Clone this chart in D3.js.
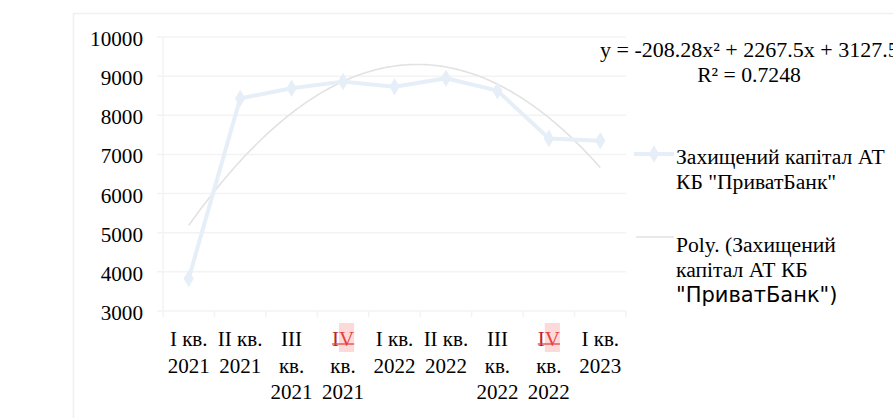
<!DOCTYPE html>
<html>
<head>
<meta charset="utf-8">
<script src="https://cdn.jsdelivr.net/npm/d3@7"></script>
<style>
  html, body { margin: 0; padding: 0; background: #fff; }
  svg { display: block; }
  text { font-family: "Liberation Serif", "Times New Roman", serif; fill: #000; }
</style>
</head>
<body>
<svg id="chart" width="893" height="418"></svg>
<script>
// Quarterly protected capital of JSC CB "PrivatBank"
const categories = ["I кв. 2021", "II кв. 2021", "III кв. 2021", "IV кв. 2021",
                    "I кв. 2022", "II кв. 2022", "III кв. 2022", "IV кв. 2022", "I кв. 2023"];
const values = [3830, 8430, 8690, 8860, 8730, 8945, 8630, 7410, 7350];
const yTicks = [3000, 4000, 5000, 6000, 7000, 8000, 9000, 10000];
// Polynomial (order 2) trend: y = a*x^2 + b*x + c, x = 1..n
const trendCoef = [-208.28, 2267.5, 3127.5];
const trendLabel = ["y = -208.28x² + 2267.5x + 3127.5", "R² = 0.7248"];

const svg = d3.select("#chart");
const seriesColor = "#e6eef8";
const trendColor = "#e2e2e2";
const gridColor = "#f3f3f3";
const fs = 21.5;

// Chart area frame
svg.append("rect").attr("x", 73.5).attr("y", 13.5).attr("width", 900).attr("height", 500)
  .attr("fill", "none").attr("stroke", "#f0f0f0").attr("stroke-width", 1.5);

const plot = { left: 163, right: 626, top: 37, bottom: 311 };
const x = d3.scaleBand().domain(categories).range([plot.left, plot.right]);
const y = d3.scaleLinear().domain([3000, 10000]).range([plot.bottom, plot.top]);

// Horizontal gridlines (extend left as outside tick marks)
svg.append("g").selectAll("line").data(yTicks).join("line")
  .attr("x1", plot.left - 6).attr("x2", plot.right)
  .attr("y1", d => y(d)).attr("y2", d => y(d))
  .attr("stroke", gridColor).attr("stroke-width", 1.5);

// Vertical axis line
svg.append("line").attr("x1", plot.left).attr("x2", plot.left)
  .attr("y1", plot.top).attr("y2", plot.bottom)
  .attr("stroke", gridColor).attr("stroke-width", 1.5);

// Category tick marks
const tickXs = categories.map(c => x(c)).concat([plot.right]);
svg.append("g").selectAll("line").data(tickXs).join("line")
  .attr("x1", d => d).attr("x2", d => d)
  .attr("y1", plot.bottom).attr("y2", plot.bottom + 6)
  .attr("stroke", gridColor).attr("stroke-width", 1.5);

// Y tick labels
svg.append("g").selectAll("text").data(yTicks).join("text")
  .attr("x", 143).attr("y", d => y(d) + 9)
  .attr("text-anchor", "end").attr("font-size", 21.2)
  .text(d => d);

// Category labels, wrapped to the band width
const labelG = svg.append("g");
function wrapWords(label, maxW, size) {
  const words = label.split(" ");
  const probe = labelG.append("text").attr("font-size", size);
  const lines = [];
  let cur = "";
  words.forEach(w => {
    const test = cur ? cur + " " + w : w;
    probe.text(test);
    if (cur && probe.node().getComputedTextLength() > maxW) { lines.push(cur); cur = w; }
    else cur = test;
  });
  lines.push(cur);
  probe.remove();
  return lines;
}
categories.forEach(c => {
  const cx = x(c) + x.bandwidth() / 2;
  const lines = wrapWords(c, x.bandwidth(), 21);
  lines.forEach((ln, i) => {
    const base = 346 + i * 26.5;
    const t = labelG.append("text").attr("x", cx).attr("y", base)
      .attr("text-anchor", "middle").attr("font-size", 21);
    if (ln === "IV" || ln.startsWith("IV ")) {
      // proofing marks on the "IV" token
      const rest = ln.slice(2);
      t.append("tspan").text("I").style("fill", "#b8242a");
      t.append("tspan").text("V").style("fill", "#e8413c");
      if (rest) t.append("tspan").text(rest);
      const node = t.node();
      const s0 = node.getStartPositionOfChar(0).x;
      const s1 = node.getStartPositionOfChar(1).x;
      const e1 = node.getEndPositionOfChar(1).x;
      labelG.insert("rect", () => node)
        .attr("x", s1).attr("y", base - 23).attr("width", e1 - s1).attr("height", 29)
        .attr("fill", "#fcdada");
      labelG.append("line").attr("x1", s0).attr("x2", e1)
        .attr("y1", base - 2).attr("y2", base - 2)
        .attr("stroke", "#e04848").attr("stroke-width", 1.3);
    } else {
      t.text(ln);
    }
  });
});

// Trendline from the stated equation
const n = categories.length;
const trendFn = k => trendCoef[0] * k * k + trendCoef[1] * k + trendCoef[2];
const xAt = k => x(categories[0]) + x.bandwidth() / 2 + (k - 1) * x.step();
const trendPts = d3.range(1, n + 0.001, 0.05).map(k => [xAt(k), y(trendFn(k))]);
svg.append("path").attr("d", d3.line()(trendPts))
  .attr("fill", "none").attr("stroke", trendColor).attr("stroke-width", 1.6);

// Series line and diamond markers
const pts = categories.map((c, i) => [x(c) + x.bandwidth() / 2, y(values[i])]);
svg.append("path").attr("d", d3.line()(pts))
  .attr("fill", "none").attr("stroke", seriesColor).attr("stroke-width", 4)
  .attr("stroke-linejoin", "round");
const diamond = d3.symbol().type(d3.symbolDiamond).size(90);
svg.append("g").selectAll("path").data(pts).join("path")
  .attr("transform", d => `translate(${d[0]},${d[1]})`)
  .attr("d", diamond).attr("fill", seriesColor);

// Trend equation
svg.append("text").attr("x", 600).attr("y", 57).attr("font-size", 22).text(trendLabel[0]);
svg.append("text").attr("x", 749).attr("y", 81.5).attr("text-anchor", "middle")
  .attr("font-size", 21.7).text(trendLabel[1]);

// Legend
const lg = svg.append("g");
lg.append("line").attr("x1", 634).attr("x2", 674).attr("y1", 154).attr("y2", 154)
  .attr("stroke", seriesColor).attr("stroke-width", 4);
lg.append("path").attr("transform", "translate(654,154)").attr("d", diamond).attr("fill", seriesColor);
lg.append("line").attr("x1", 636).attr("x2", 674).attr("y1", 237).attr("y2", 237)
  .attr("stroke", trendColor).attr("stroke-width", 1.6);

const leg1 = ["Захищений капітал АТ", "КБ \"ПриватБанк\""];
leg1.forEach((ln, i) => lg.append("text").attr("x", 676).attr("y", 163.5 + i * 25)
  .attr("font-size", 21.6).text(ln));
const leg2 = ["Poly. (Захищений", "капітал АТ КБ"];
leg2.forEach((ln, i) => lg.append("text").attr("x", 676).attr("y", 251.5 + i * 25)
  .attr("font-size", 21.6).text(ln));
lg.append("text").attr("x", 676).attr("y", 301.5)
  .attr("font-size", 21).style("font-family", "'DejaVu Sans', sans-serif")
  .text("\"ПриватБанк\")");
</script>
</body>
</html>
